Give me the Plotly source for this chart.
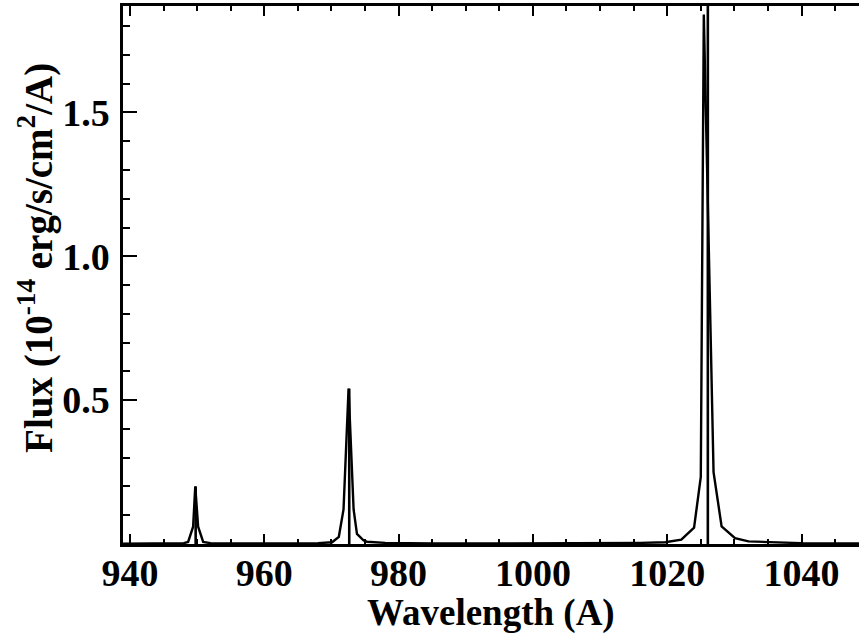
"""Model flux spectrum of the Lyman lines, IDL-style frame."""
import plotly.graph_objects as go

# profile sampled along wavelength (A) and flux (1e-14 erg/s/cm2/A)
wavelength = [938.0, 942.0, 946.0, 948.0, 948.66, 949.4, 949.72, 950.15, 950.9,
              952.0, 956.0, 962.0, 968.0, 970.1, 971.1, 971.8, 972.55, 973.3,
              973.8, 974.8, 975.3, 978.0, 985.0, 995.0, 1005.0, 1012.0, 1016.0,
              1019.7, 1022.1, 1024.0, 1025.0, 1025.45, 1026.9, 1028.1, 1030.1,
              1032.1, 1035.2, 1040.0, 1045.0, 1050.0]
flux = [0.001, 0.001, 0.002, 0.003, 0.007, 0.06, 0.2, 0.06, 0.007,
        0.003, 0.002, 0.002, 0.003, 0.006, 0.025, 0.12, 0.54, 0.12,
        0.035, 0.012, 0.008, 0.004, 0.002, 0.002, 0.002, 0.003, 0.004,
        0.006, 0.015, 0.057, 0.233, 1.84, 0.25, 0.061, 0.02,
        0.009, 0.006, 0.003, 0.002, 0.002]

# line centres drawn as sticks
line_centre = [949.78, 972.65, 1026.05]
line_height = [0.2, 0.54, 2.5]

x_ticks = [940, 960, 980, 1000, 1020, 1040]
y_ticks = [0.5, 1.0, 1.5]
x_range = [938.96, 1048.56]
y_range = [0, 1.87]

FONT = "Liberation Serif"

stick_x, stick_y = [], []
for c, h in zip(line_centre, line_height):
    stick_x += [c, c, None]
    stick_y += [0, h, None]

fig = go.Figure()
fig.add_trace(go.Scatter(
    x=wavelength, y=flux, mode="lines",
    line=dict(color="black", width=2.4),
    showlegend=False, hoverinfo="skip"
))
fig.add_trace(go.Scatter(
    x=stick_x, y=stick_y, mode="lines",
    line=dict(color="black", width=2.6),
    showlegend=False, hoverinfo="skip"
))

# axis titles as annotations so the frame keeps its fixed margins
fig.add_annotation(
    text="Wavelength (A)", xref="paper", yref="paper",
    x=0.5, y=-0.085, xanchor="center", yanchor="top", showarrow=False,
    font=dict(size=37, family=FONT, weight="bold", color="black")
)
fig.add_annotation(
    text="Flux (10<sup>-14</sup> erg/s/cm<sup>2</sup>/A)",
    xref="paper", yref="paper", textangle=-90,
    x=-0.118, y=0.532, xanchor="center", yanchor="middle", showarrow=False,
    font=dict(size=39, family=FONT, weight="bold", color="black")
)

fig.update_layout(
    width=859, height=635,
    margin=dict(l=123, r=0, t=6, b=91),
    plot_bgcolor="white", paper_bgcolor="white",
    font=dict(family=FONT, color="black"),
    xaxis=dict(
        range=x_range, tickvals=x_ticks, automargin=False,
        ticks="inside", ticklen=10, tickwidth=2, tickcolor="black",
        minor=dict(dtick=5, tick0=940, ticks="inside", ticklen=5,
                   tickwidth=2, tickcolor="black"),
        showline=True, linewidth=2.5, linecolor="black", mirror="allticks",
        showgrid=False, zeroline=False,
        tickfont=dict(size=38, family=FONT, weight="bold"),
        ticklabelstandoff=-6,
    ),
    yaxis=dict(
        range=y_range, tickvals=y_ticks, ticktext=["0.5", "1.0", "1.5"],
        automargin=False,
        ticks="inside", ticklen=14, tickwidth=2, tickcolor="black",
        minor=dict(dtick=0.1, tick0=0, ticks="inside", ticklen=7,
                   tickwidth=2, tickcolor="black"),
        showline=True, linewidth=2.5, linecolor="black",
        showgrid=False, zeroline=False,
        tickfont=dict(size=38, family=FONT, weight="bold"),
        ticklabelstandoff=3,
    ),
    # right-hand ticks only; the frame's right edge sits off the page
    yaxis2=dict(
        range=y_range, overlaying="y", side="right", automargin=False,
        tickvals=y_ticks, showticklabels=False,
        ticks="inside", ticklen=7, tickwidth=2, tickcolor="black",
        minor=dict(dtick=0.1, tick0=0, ticks="inside", ticklen=2,
                   tickwidth=2, tickcolor="black"),
        showline=False, showgrid=False, zeroline=False,
    ),
)

# the page's default body margin would shift the whole figure by 8px
fig.write_html(
    "out.html",
    config={"displayModeBar": False},
    post_script="document.body.style.margin='0';"
                "document.body.style.overflow='hidden';",
)
